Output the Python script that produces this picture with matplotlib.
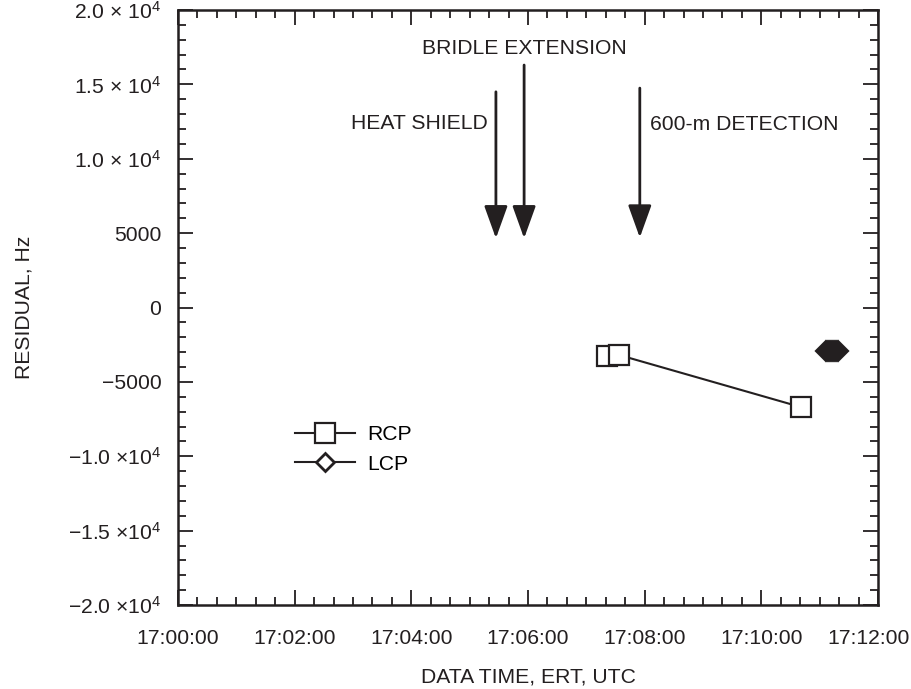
import matplotlib
matplotlib.use("Agg")
import matplotlib.pyplot as plt
from matplotlib.lines import Line2D
from matplotlib.ticker import FixedLocator, MultipleLocator
from matplotlib.transforms import ScaledTranslation

plt.rcParams['font.family'] = ['Liberation Sans', 'DejaVu Sans']
plt.rcParams['mathtext.fontset'] = 'custom'
plt.rcParams['mathtext.rm'] = 'Liberation Sans'
plt.rcParams['mathtext.it'] = 'Liberation Sans'

INK = "#231f20"
FS = 15.2

# seconds after 17:00:00 ERT
rcp_t = [441, 454, 641]
rcp_res = [-3250, -3200, -6700]

lcp_t = [667, 669, 671, 673, 675, 677, 679]
lcp_res = [-2950, -2950, -2950, -2950, -2950, -2950, -2950]

# event markers: (time, arrow top, arrow tip)
events = {
    "HEAT SHIELD": (327, 14500, 4650),
    "BRIDLE EXTENSION": (356, 16300, 4650),
    "600-m DETECTION": (475, 14750, 4700),
}

xtick_secs = [0, 120, 240, 360, 480, 600, 720]
xtick_labels = ["17:00:00", "17:02:00", "17:04:00", "17:06:00",
                "17:08:00", "17:10:00", "17:12:00"]

ytick_vals = [20000, 15000, 10000, 5000, 0, -5000, -10000, -15000, -20000]
ytick_labels = ["2.0 \u00d7 10$^{4}$", "1.5 \u00d7 10$^{4}$", "1.0 \u00d7 10$^{4}$",
                "5000", "0", "\u22125000", "\u22121.0 \u00d710$^{4}$",
                "\u22121.5 \u00d710$^{4}$", "\u22122.0 \u00d710$^{4}$"]

fig = plt.figure(figsize=(9.12, 6.89), dpi=100)
ax = fig.add_axes([178 / 912, 84 / 689, 700 / 912, 595 / 689])

ax.plot(rcp_t, rcp_res, color=INK, lw=1.5, marker="s", markersize=15,
        markerfacecolor="white", markeredgecolor=INK, markeredgewidth=1.6)
ax.plot(lcp_t, lcp_res, color=INK, lw=1.5, marker="D", markersize=10,
        markerfacecolor=INK, markeredgecolor=INK, markeredgewidth=1.6)

for name, (t, top, tip) in events.items():
    ax.annotate("", xy=(t, tip), xytext=(t, top),
                arrowprops=dict(arrowstyle="-|>,head_length=2.0,head_width=0.72",
                                mutation_scale=10, lw=2, color=INK,
                                shrinkA=0, shrinkB=0))

ax.text(319, 12400, "HEAT SHIELD", ha="right", va="center", fontsize=FS, color=INK)
ax.text(356, 17400, "BRIDLE EXTENSION", ha="center", va="center", fontsize=FS, color=INK)
ax.text(486, 12300, "600-m DETECTION", ha="left", va="center", fontsize=FS, color=INK)

ax.set_xlim(0, 720)
ax.set_ylim(-20000, 20000)

ax.xaxis.set_major_locator(FixedLocator(xtick_secs))
ax.set_xticklabels(xtick_labels)
ax.xaxis.set_minor_locator(MultipleLocator(20))
ax.yaxis.set_major_locator(FixedLocator(ytick_vals))
ax.set_yticklabels(ytick_labels)
ax.yaxis.set_minor_locator(MultipleLocator(1000))

ax.tick_params(which="both", direction="in", top=True, right=True, colors=INK,
               labelsize=FS, labelcolor=INK)
ax.tick_params(which="major", length=11, width=1.3)
ax.tick_params(which="minor", length=6, width=1.3)
ax.tick_params(axis="x", pad=17)
ax.tick_params(axis="y", pad=12)
for s in ax.spines.values():
    s.set_linewidth(1.8)
    s.set_color(INK)

ax.set_xlabel("DATA TIME, ERT, UTC", fontsize=FS, color=INK, labelpad=14)
ax.set_ylabel("RESIDUAL, Hz", fontsize=FS, color=INK, labelpad=25)

handles = [
    Line2D([], [], color=INK, lw=1.5, marker="s", markersize=15,
           markerfacecolor="white", markeredgecolor=INK, markeredgewidth=1.6),
    Line2D([], [], color=INK, lw=1.5, marker="D", markersize=9.5,
           markerfacecolor="white", markeredgecolor=INK, markeredgewidth=2),
]
ax.legend(handles, ["RCP", "LCP"], loc="upper left", bbox_to_anchor=(0.14, 0.334),
          frameon=False, fontsize=FS, handlelength=2.85, labelspacing=0.5,
          handletextpad=0.55)

# keep the last time label inside the figure
fig.canvas.draw()
last = ax.xaxis.get_major_ticks()[-1].label1
last.set_transform(last.get_transform() + ScaledTranslation(-9 / 100, 0, fig.dpi_scale_trans))

fig.savefig("out.png", dpi=100)
